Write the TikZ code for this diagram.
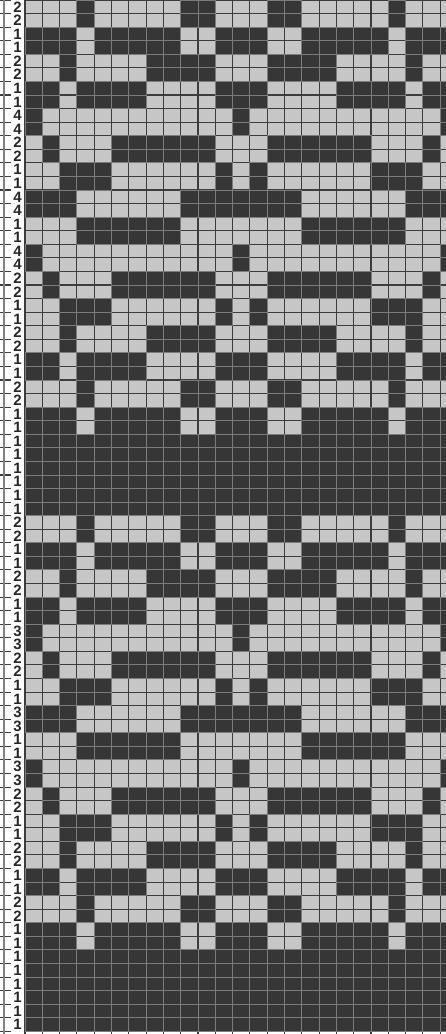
\documentclass[tikz,border=0pt]{standalone}
\usepackage{fontspec}
\newfontfamily\labfont{Liberation Sans}
\definecolor{paper}{HTML}{C6C6C6}
\definecolor{ink}{HTML}{363636}
\definecolor{rule}{HTML}{3C3C3C}
\definecolor{pale}{HTML}{7C7C7C}
\begin{document}
\begin{tikzpicture}[x=1pt, y=-1pt,
    darkcell/.style={fill=ink, draw=pale, line width=0.9pt},
    gridline/.style={draw=rule, line width=1.1pt},
    rowlabel/.style={font=\labfont\bfseries\fontsize{15}{15}\selectfont, text=black!85,
        inner sep=0pt, text height=10.5pt, text depth=0pt}]
    \useasboundingbox (0,0) rectangle (446,1034);
    \clip (0,0) rectangle (446,1034);
    \def\cw{17.3}
    \def\rh{13.57}
    % light ground and the grid
    \fill[white] (0,0) rectangle (446,1034);
    \fill[paper] (25,0) rectangle (460,1031.3);
    \foreach \i in {0,...,25}
        \draw[gridline] ({25+\i*\cw},0) -- ({25+\i*\cw},1034);
    \foreach \j in {0,...,76} {
        \draw[gridline] (0,{\j*\rh}) -- (11,{\j*\rh});
        \draw[gridline] (25,{\j*\rh}) -- (446,{\j*\rh});
    }
    \draw[gridline, draw=gray] (4,0) -- (4,1034);
    % row pairs: number, label, dark columns of the left half (mirrored about column 12)
    \foreach \p/\lab/\cols in {0/2/{3,9,10}, 1/1/{0,1,2,4,5,6,7,8,11,12}, 2/2/{2,7,8,9,10},
        3/1/{0,1,3,4,5,6,11,12}, 4/4/{0,12}, 5/2/{1,5,6,7,8,9,10}, 6/1/{2,3,4,11},
        7/4/{0,1,2,9,10,11,12}, 8/1/{3,4,5,6,7,8}, 9/4/{0,12}, 10/2/{1,5,6,7,8,9,10},
        11/1/{2,3,4,11}, 12/2/{2,7,8,9,10}, 13/1/{0,1,3,4,5,6,11,12}, 14/2/{3,9,10},
        15/1/{0,1,2,4,5,6,7,8,11,12}, 16/1/{0,1,2,3,4,5,6,7,8,9,10,11,12},
        17/1/{0,1,2,3,4,5,6,7,8,9,10,11,12}, 18/1/{0,1,2,3,4,5,6,7,8,9,10,11,12},
        19/2/{3,9,10}, 20/1/{0,1,2,4,5,6,7,8,11,12}, 21/2/{2,7,8,9,10},
        22/1/{0,1,3,4,5,6,11,12}, 23/3/{0,12}, 24/2/{1,5,6,7,8,9,10}, 25/1/{2,3,4,11},
        26/3/{0,1,2,9,10,11,12}, 27/1/{3,4,5,6,7,8}, 28/3/{0,12}, 29/2/{1,5,6,7,8,9,10},
        30/1/{2,3,4,11}, 31/2/{2,7,8,9,10}, 32/1/{0,1,3,4,5,6,11,12}, 33/2/{3,9,10},
        34/1/{0,1,2,4,5,6,7,8,11,12}, 35/1/{0,1,2,3,4,5,6,7,8,9,10,11,12},
        36/1/{0,1,2,3,4,5,6,7,8,9,10,11,12}, 37/1/{0,1,2,3,4,5,6,7,8,9,10,11,12}} {
        \foreach \r in {0,1} {
            \pgfmathsetmacro{\ya}{(2*\p+\r)*\rh}
            \pgfmathsetmacro{\yb}{\ya+\rh}
            \node[rowlabel] (lab-\p-\r) at (17.5,{\ya+\rh/2}) {\lab};
            \foreach \c in \cols {
                \draw[darkcell] ({25+\c*\cw},\ya) rectangle ({25+(\c+1)*\cw},\yb);
                \draw[darkcell] ({25+(24-\c)*\cw},\ya) rectangle ({25+(25-\c)*\cw},\yb);
            }
        }
    }
\end{tikzpicture}
\end{document}
